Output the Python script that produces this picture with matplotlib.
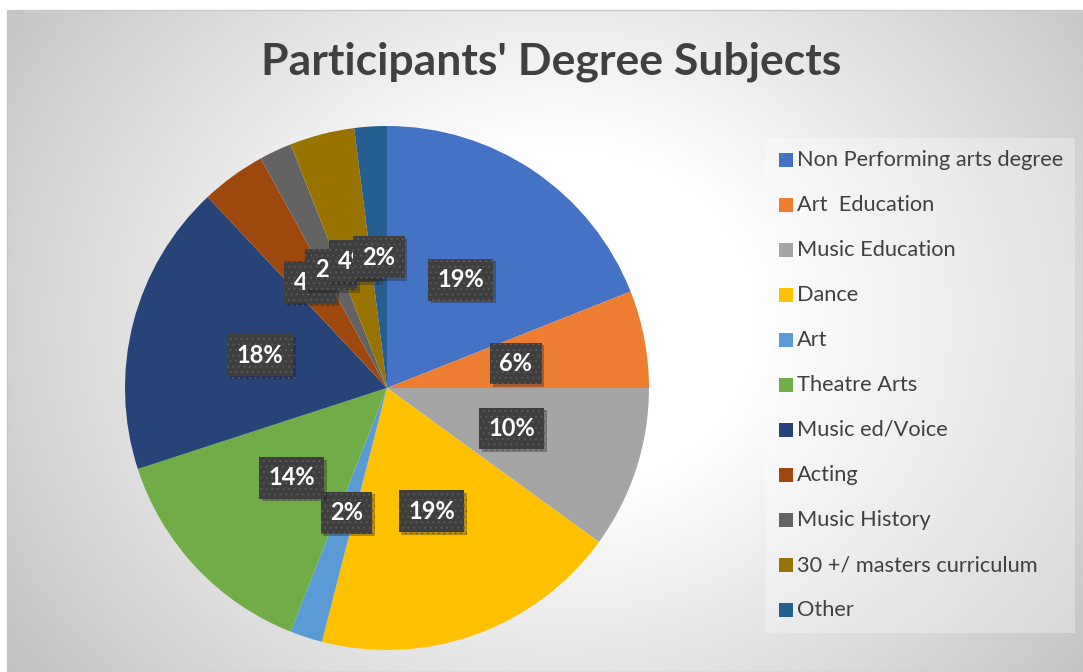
import numpy as np
import matplotlib
matplotlib.use("Agg")
import matplotlib.pyplot as plt
from matplotlib.patches import Rectangle
import matplotlib.patheffects as pe

categories = [
    "Non Performing arts degree", "Art  Education", "Music Education", "Dance",
    "Art", "Theatre Arts", "Music ed/Voice", "Acting", "Music History",
    "30 +/ masters curriculum", "Other",
]
shares = [19, 6, 10, 19, 2, 14, 18, 4, 2, 4, 2]
colors = [
    "#4472C4", "#ED7D31", "#A5A5A5", "#FFC000", "#5B9BD5", "#70AD47",
    "#264478", "#9E480E", "#636363", "#997300", "#255E91",
]
title = "Participants' Degree Subjects"

W, H, DPI = 1083, 672, 100
plt.rcParams['font.family'] = ['Lato', 'DejaVu Sans']
plt.rcParams['hatch.linewidth'] = 0.6
fig = plt.figure(figsize=(W / DPI, H / DPI), dpi=DPI, facecolor='white')

# Background canvas in pixel units with a soft radial gradient
bg = fig.add_axes([0, 0, 1, 1])
yy, xx = np.mgrid[0:H, 0:W]
d = np.hypot((xx - 560) / 1.15, yy - 320)
t = np.clip((d - 170) / 430, 0, 1)
v = (255 - 62 * t) / 255
img = np.dstack([v, v, v])
img[:10, :] = 1
img[:, :7] = 1
bg.imshow(img, extent=[0, W, H, 0], aspect='auto', interpolation='bilinear')
bg.set_xlim(0, W)
bg.set_ylim(H, 0)
bg.axis('off')
bg.add_patch(Rectangle((7, 10), W - 7, H - 10, fill=False, edgecolor='#c8c8c8', lw=1))

# Title
bg.text(551, 62, title, ha='center', va='center', fontsize=32,
        fontweight='bold', color='#404040')

# Pie
cx, cy, r = 387, 388, 262
ax = fig.add_axes([(cx - r) / W, (H - cy - r) / H, 2 * r / W, 2 * r / H])
wedges, _ = ax.pie(shares, colors=colors, startangle=90, counterclock=False,
                   radius=1, wedgeprops=dict(linewidth=0))
ax.set_xlim(-1, 1)
ax.set_ylim(-1, 1)
ax.set_aspect('equal')
ax.set_frame_on(False)

for i, (w, val) in enumerate(zip(wedges, shares)):
    ang = np.deg2rad((w.theta1 + w.theta2) / 2)
    x, y = 0.5 * np.cos(ang), 0.5 * np.sin(ang)
    txt = ax.text(x, y, f"{val}%", ha='center', va='center', fontsize=17,
                  fontweight='bold', color='white', zorder=10 + i,
                  bbox=dict(boxstyle='square,pad=0.4', facecolor='#3f3f3f',
                            edgecolor='#5c5c5c', linewidth=0, hatch='...'))
    txt.get_bbox_patch().set_path_effects(
        [pe.SimplePatchShadow(offset=(2, -2), alpha=0.3), pe.Normal()])

# Legend panel
bg.add_patch(Rectangle((765, 138), 310, 495, facecolor='white', alpha=0.3,
                       edgecolor='none'))
for i, (lab, col) in enumerate(zip(categories, colors)):
    y = 160 + 45 * i
    bg.add_patch(Rectangle((779, y - 7), 14, 14, facecolor=col, edgecolor='none'))
    bg.text(797, y, lab, ha='left', va='center', fontsize=15.7, color='#404040')

fig.savefig("out.png", dpi=DPI, facecolor='white')
